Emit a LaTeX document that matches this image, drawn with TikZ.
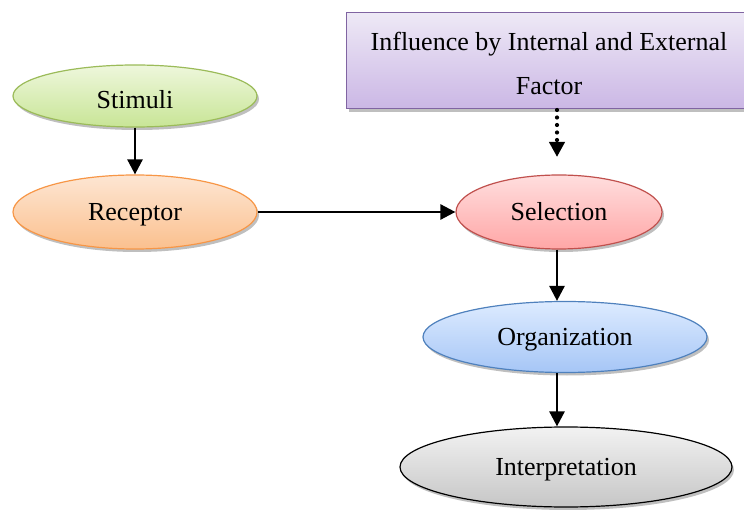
\documentclass[tikz,border=0pt]{standalone}
\usepackage{fontspec}
\setmainfont{Liberation Serif}
\usetikzlibrary{arrows.meta,shadows,shapes.geometric}
\definecolor{grnB}{HTML}{9BBB59}\definecolor{grnT}{HTML}{EEF7DC}\definecolor{grnL}{HTML}{C8E596}
\definecolor{orgB}{HTML}{F79646}\definecolor{orgT}{HTML}{FDE6D3}\definecolor{orgL}{HTML}{FBC08E}
\definecolor{redB}{HTML}{C0504D}\definecolor{redT}{HTML}{FFDEDE}\definecolor{redL}{HTML}{FFA6A6}
\definecolor{bluB}{HTML}{4F81BD}\definecolor{bluT}{HTML}{DDEBFF}\definecolor{bluL}{HTML}{A6C6F6}
\definecolor{purB}{HTML}{8064A2}\definecolor{purT}{HTML}{EEE9F6}\definecolor{purL}{HTML}{CBB7E5}
\definecolor{gryT}{HTML}{F2F2F2}\definecolor{gryL}{HTML}{C6C6C6}
\begin{document}
\begin{tikzpicture}[x=1pt,y=-1pt,
  every node/.style={font=\fontsize{26}{44}\selectfont},
  oval/.style={ellipse,draw,line width=1.2pt,inner sep=0pt,text height=18pt,text depth=1pt,
     drop shadow={shadow xshift=2pt,shadow yshift=-3pt,opacity=0.25,fill=black}},
  conn/.style={-{Triangle[width=15pt,length=15pt]},line width=2.6pt},
  dotconn/.style={line width=4.2pt,line cap=round,dash pattern=on 0pt off 7.5pt,
     -{Triangle[width=15pt,length=15pt,line cap=butt]}}
  ]
\useasboundingbox (0,0) rectangle (744,510);
\node[draw=purB,line width=1.2pt,top color=purT,bottom color=purL,
  minimum width=410pt,minimum height=96pt,inner sep=0pt,anchor=north west,
  drop shadow={shadow xshift=2pt,shadow yshift=-3pt,opacity=0.25,fill=black}]
  (box) at (346,12) {};
\node[align=center] (boxtext) at (549,63) {Influence by Internal and External\\Factor};
\coordinate (boxbot) at (557,110);
\coordinate (seltop) at (557,157);
\node[oval,text height=26pt,draw=grnB,top color=grnT,bottom color=grnL,minimum width=244pt,minimum height=62pt] (stim) at (135,96) {Stimuli};
\node[oval,draw=orgB,top color=orgT,bottom color=orgL,minimum width=244pt,minimum height=74pt] (rec) at (135,212) {Receptor};
\node[oval,draw=redB,top color=redT,bottom color=redL,minimum width=206pt,minimum height=74pt] (sel) at (559,212) {Selection};
\node[oval,draw=bluB,top color=bluT,bottom color=bluL,minimum width=284pt,minimum height=71pt] (org) at (565,337) {Organization};
\node[oval,draw=black,top color=gryT,bottom color=gryL,minimum width=332pt,minimum height=80pt] (int) at (566,467) {Interpretation};
\draw[conn] (stim.south) -- (rec.north);
\draw[conn] (rec.east) -- (sel.west);
\draw[conn] (sel.south -| 557,0) -- (org.north -| 557,0);
\draw[conn] (org.south -| 557,0) -- (int.north -| 557,0);
\draw[dotconn] (boxbot) -- (seltop);
\end{tikzpicture}
\end{document}
